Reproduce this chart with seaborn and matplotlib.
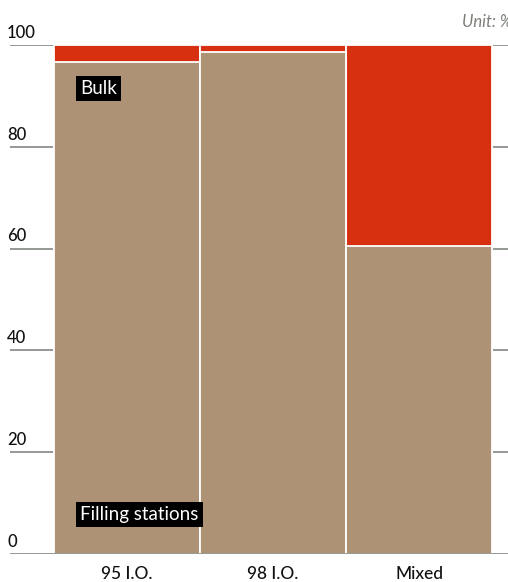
import matplotlib
matplotlib.use("Agg")
import matplotlib.pyplot as plt
import matplotlib.transforms as mtransforms
import pandas as pd
import seaborn as sns

# data (share in %)
categories = ["95 I.O.", "98 I.O.", "Mixed"]
filling_stations = [96.7, 98.7, 60.6]
bulk = [3.3, 1.3, 39.4]
y_ticks = [0, 20, 40, 60, 80, 100]

tan = "#AD9275"
red = "#D63010"
grid_col = "#8C918A"

df = pd.DataFrame({"fuel": categories, "filling": filling_stations, "bulk": bulk})
df["total"] = df["filling"] + df["bulk"]

sns.set_theme(style="white")
plt.rcParams["font.family"] = ["Lato", "DejaVu Sans"]

fig = plt.figure(figsize=(5.08, 5.82), dpi=100)
ax = fig.add_axes([10 / 508, 28 / 582, 498 / 508, 509 / 582])

# stacked bars: whole bar in red (bulk), filling stations drawn over it
sns.barplot(data=df, x="fuel", y="total", color=red, width=1, saturation=1,
            edgecolor="white", linewidth=1.3, ax=ax, zorder=2)
sns.barplot(data=df, x="fuel", y="filling", color=tan, width=1, saturation=1,
            edgecolor="white", linewidth=1.3, ax=ax, zorder=3)

ax.set_xlim(-0.5 - 44 / 146, 2.5 + 16 / 146)
ax.set_ylim(0, 100)
for s in ax.spines.values():
    s.set_visible(False)

ax.set_yticks(y_ticks)
ax.set_yticklabels([])
ax.tick_params(axis="y", length=0)
for v in y_ticks:
    ax.axhline(v, color=grid_col, lw=1.3, zorder=1 if v else 5)

# y labels sit above the grid lines at the far left
trans = mtransforms.blended_transform_factory(fig.transFigure, ax.transData)
for v in y_ticks:
    off = mtransforms.offset_copy(trans, fig=fig, x=0, y=3, units="points")
    ax.text(7 / 508, v, str(v), transform=off, ha="left", va="bottom",
            fontsize=12, color="#111111", fontweight="medium")

ax.set_xlabel("")
ax.set_ylabel("")
ax.tick_params(axis="x", length=0, pad=8.5, labelsize=12.5, labelcolor="#111111")
for t in ax.get_xticklabels():
    t.set_fontweight("medium")

# segment labels in black boxes
ax.text(-0.5 + 26 / 146, 91.4, "Bulk", color="white", fontsize=13.5,
        ha="left", va="center", zorder=6,
        bbox=dict(facecolor="black", edgecolor="none", pad=3.0))
ax.text(-0.5 + 26 / 146, 7.7, "Filling stations", color="white", fontsize=13.5,
        ha="left", va="center", zorder=6,
        bbox=dict(facecolor="black", edgecolor="none", pad=3.0))

fig.text(1.008, 1 - 22 / 582, "Unit: %", ha="right", va="center",
         fontsize=12, style="italic", color="#7A7F78")

fig.savefig("out.png", dpi=100)
